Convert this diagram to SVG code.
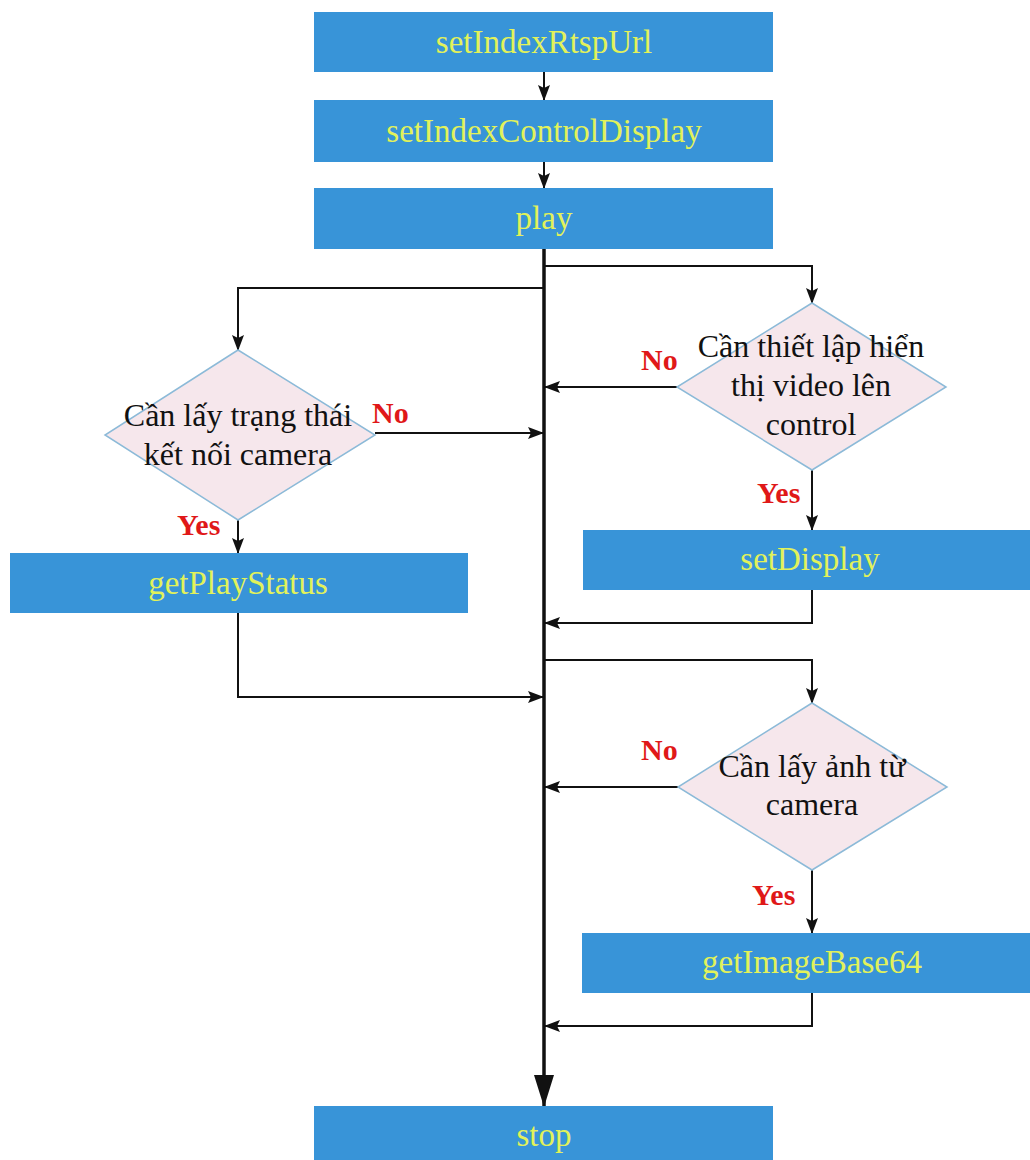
<svg xmlns="http://www.w3.org/2000/svg" width="1030" height="1160" viewBox="0 0 1030 1160">
<style>
.box{fill:#3894d8;}
.bt{font-family:"Liberation Serif","Times New Roman",serif;font-size:33px;fill:#e2f25a;text-anchor:middle;}
.dia{fill:#f6e7ec;stroke:#8cbad8;stroke-width:1.5;}
.dt{font-family:"Liberation Serif","Times New Roman",serif;font-size:32px;fill:#111;text-anchor:middle;}
.lbl{font-family:"Liberation Serif","Times New Roman",serif;font-size:30px;font-weight:bold;fill:#e01818;}
.ln{fill:none;stroke:#111;stroke-width:2;}
.main{fill:none;stroke:#111;stroke-width:3.5;}
</style>
<defs>
<marker id="ah" markerUnits="userSpaceOnUse" markerWidth="16" markerHeight="12" refX="15" refY="6" orient="auto">
<path d="M0,0 L16,6 L0,12 L3,6 Z" fill="#111"/>
</marker>
<marker id="ahb" markerUnits="userSpaceOnUse" markerWidth="32" markerHeight="20" refX="31" refY="10" orient="auto">
<path d="M0,0 L32,10 L0,20 Z" fill="#111"/>
</marker>
</defs>
<rect width="1030" height="1160" fill="#ffffff"/>
<g id="connectors">
<line class="ln" x1="544" y1="72" x2="544" y2="100" marker-end="url(#ah)"/>
<line class="ln" x1="544" y1="162" x2="544" y2="188" marker-end="url(#ah)"/>
<line class="main" x1="544" y1="249" x2="544" y2="1106" marker-end="url(#ahb)"/>
<polyline class="ln" points="544,288 238,288 238,350" marker-end="url(#ah)"/>
<line class="ln" x1="375" y1="433" x2="543" y2="433" marker-end="url(#ah)"/>
<line class="ln" x1="238" y1="520" x2="238" y2="553" marker-end="url(#ah)"/>
<polyline class="ln" points="238,613 238,697 543,697" marker-end="url(#ah)"/>
<polyline class="ln" points="544,266 812,266 812,303" marker-end="url(#ah)"/>
<line class="ln" x1="677" y1="387" x2="545" y2="387" marker-end="url(#ah)"/>
<line class="ln" x1="812" y1="470" x2="812" y2="530" marker-end="url(#ah)"/>
<polyline class="ln" points="812,590 812,623 545,623" marker-end="url(#ah)"/>
<polyline class="ln" points="544,660 812,660 812,703" marker-end="url(#ah)"/>
<line class="ln" x1="678" y1="787" x2="545" y2="787" marker-end="url(#ah)"/>
<line class="ln" x1="812" y1="870" x2="812" y2="933" marker-end="url(#ah)"/>
<polyline class="ln" points="812,993 812,1026 545,1026" marker-end="url(#ah)"/>
</g>
<g id="n-setIndexRtspUrl">
<rect class="box" x="314" y="12" width="459" height="60"/>
<text class="bt" x="544" y="53">setIndexRtspUrl</text>
</g>
<g id="n-setIndexControlDisplay">
<rect class="box" x="314" y="100" width="459" height="62"/>
<text class="bt" x="544" y="142">setIndexControlDisplay</text>
</g>
<g id="n-play">
<rect class="box" x="314" y="188" width="459" height="61"/>
<text class="bt" x="544" y="229">play</text>
</g>
<g id="n-d1">
<polygon class="dia" points="238,350 375,435 238,520 105,435"/>
<text class="dt" x="238" y="426">Cần lấy trạng thái</text>
<text class="dt" x="238" y="465">kết nối camera</text>
</g>
<g id="l-no1"><text class="lbl" x="372" y="423">No</text></g>
<g id="l-yes1"><text class="lbl" x="177" y="535">Yes</text></g>
<g id="n-getPlayStatus">
<rect class="box" x="10" y="553" width="458" height="60"/>
<text class="bt" x="238" y="594">getPlayStatus</text>
</g>
<g id="n-d2">
<polygon class="dia" points="812,303 946,387 812,470 677,387"/>
<text class="dt" x="811" y="357">Cần thiết lập hiển</text>
<text class="dt" x="811" y="396">thị video lên</text>
<text class="dt" x="811" y="435">control</text>
</g>
<g id="l-no2"><text class="lbl" x="641" y="370">No</text></g>
<g id="l-yes2"><text class="lbl" x="757" y="503">Yes</text></g>
<g id="n-setDisplay">
<rect class="box" x="583" y="530" width="447" height="60"/>
<text class="bt" x="810" y="570">setDisplay</text>
</g>
<g id="n-d3">
<polygon class="dia" points="812,703 947,787 812,870 678,787"/>
<text class="dt" x="812" y="777">Cần lấy ảnh từ</text>
<text class="dt" x="812" y="815">camera</text>
</g>
<g id="l-no3"><text class="lbl" x="641" y="760">No</text></g>
<g id="l-yes3"><text class="lbl" x="752" y="905">Yes</text></g>
<g id="n-getImageBase64">
<rect class="box" x="582" y="933" width="448" height="60"/>
<text class="bt" x="812" y="973">getImageBase64</text>
</g>
<g id="n-stop">
<rect class="box" x="314" y="1106" width="459" height="54"/>
<text class="bt" x="544" y="1146">stop</text>
</g>
</svg>
